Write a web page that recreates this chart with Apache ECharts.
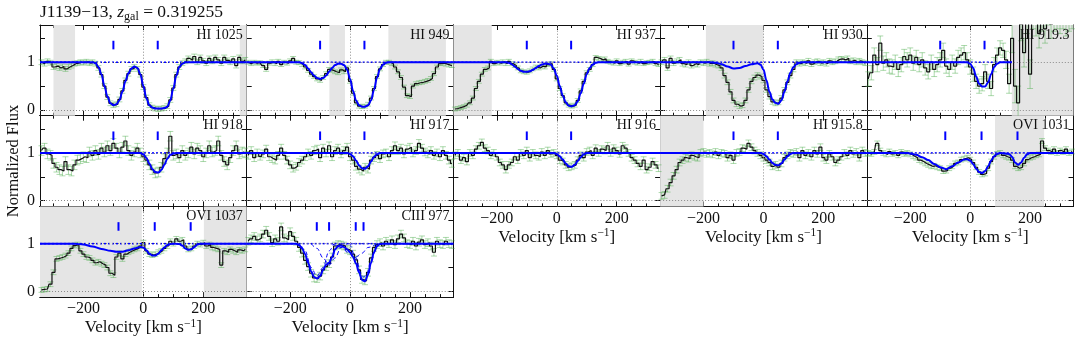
<!DOCTYPE html>
<html lang="en">
<head>
<meta charset="UTF-8">
<title>J1139-13 velocity stack</title>
<style>
  html, body { margin: 0; padding: 0; background: #fff; }
  #chart { width: 1080px; height: 343px; }
</style>
<script src="https://cdn.jsdelivr.net/npm/echarts@6/dist/echarts.min.js"></script>
</head>
<body>
<div id="chart"></div>
<script>
// velocity bins (km/s), shared by every transition
const vel = [-340, -330, -320, -310, -300, -290, -280, -270, -260, -250,
  -240, -230, -220, -210, -200, -190, -180, -170, -160, -150,
  -140, -130, -120, -110, -100, -90, -80, -70, -60, -50,
  -40, -30, -20, -10, 0, 10, 20, 30, 40, 50,
  60, 70, 80, 90, 100, 110, 120, 130, 140, 150,
  160, 170, 180, 190, 200, 210, 220, 230, 240, 250,
  260, 270, 280, 290, 300, 310, 320, 330, 340];

// normalized flux
const fHI1025 = [1.0, 0.97, 1.02, 0.99, 0.9, 0.92, 0.88, 0.91, 0.86, 0.9,
  0.93, 0.97, 0.98, 1.0, 0.99, 1.01, 0.98, 1.0, 0.97, 0.88,
  0.74, 0.5, 0.27, 0.14, 0.1, 0.12, 0.22, 0.4, 0.62, 0.76,
  0.86, 0.9, 0.86, 0.74, 0.48, 0.26, 0.1, 0.05, 0.03, 0.02,
  0.03, 0.04, 0.08, 0.21, 0.46, 0.74, 0.9, 0.98, 1.02, 1.08,
  1.04, 1.12, 1.0, 1.1, 1.03, 0.98, 1.08, 1.02, 1.1, 1.05,
  0.98, 1.1, 1.04, 1.0, 1.07, 0.93, 1.1, 1.02, 1.05];
const fHI949 = [1.0, 0.97, 1.0, 0.98, 0.99, 0.93, 0.85, 0.98, 1.01, 0.97,
  1.02, 0.95, 1.0, 0.98, 1.03, 1.08, 1.0, 0.99, 0.95, 0.9,
  0.83, 0.75, 0.7, 0.65, 0.62, 0.68, 0.76, 0.85, 0.83, 0.8,
  0.78, 0.84, 0.8, 0.88, 0.6, 0.35, 0.15, 0.08, 0.07, 0.08,
  0.12, 0.25, 0.45, 0.7, 0.86, 0.95, 1.0, 1.0, 0.97, 0.9,
  0.8, 0.68, 0.48, 0.3, 0.28, 0.5, 0.55, 0.57, 0.58, 0.6,
  0.62, 0.66, 0.76, 0.9, 0.97, 0.98, 0.96, 0.94, 0.93];
const fHI937 = [0.02, 0.03, 0.05, 0.07, 0.1, 0.15, 0.25, 0.45, 0.6, 0.75,
  0.85, 0.88, 1.02, 0.97, 1.0, 0.98, 1.01, 0.97, 1.02, 0.97,
  0.93, 0.88, 0.82, 0.8, 0.79, 0.82, 0.86, 0.9, 0.88, 0.92,
  0.9, 0.95, 0.97, 0.85, 0.65, 0.45, 0.3, 0.15, 0.1, 0.08,
  0.1, 0.2, 0.4, 0.6, 0.78, 0.85, 0.95, 1.1, 1.08, 1.05,
  1.07, 1.02, 1.0, 0.98, 1.03, 0.97, 1.0, 1.02, 0.96, 1.03,
  1.0, 0.98, 1.02, 0.97, 0.99, 1.0, 1.02, 0.97, 0.95];
const fHI930 = [1.0, 1.05, 0.88, 1.08, 0.98, 1.02, 1.05, 0.97, 0.95, 1.0,
  0.93, 0.97, 0.95, 1.0, 0.98, 1.01, 0.97, 0.98, 0.95, 0.93,
  0.88, 0.72, 0.58, 0.38, 0.2, 0.12, 0.08, 0.1, 0.2, 0.42,
  0.6, 0.68, 0.73, 0.7, 0.62, 0.42, 0.28, 0.17, 0.14, 0.16,
  0.25, 0.42, 0.58, 0.72, 0.85, 1.0, 0.97, 1.0, 0.98, 1.03,
  0.96, 1.0, 1.02, 0.98, 1.0, 0.97, 1.03, 1.0, 1.02, 1.06,
  1.07, 1.05, 1.08, 1.02, 1.04, 1.0, 1.03, 1.0, 0.98];
const fHI919 = [0.65, 0.78, 1.15, 0.95, 1.4, 0.98, 1.05, 0.92, 0.9, 1.0,
  0.85, 0.95, 1.12, 1.05, 1.15, 0.98, 1.1, 0.95, 1.05, 0.88,
  0.8, 1.0, 0.85, 0.95, 1.05, 1.25, 0.92, 0.85, 1.0, 0.92,
  1.1, 1.15, 1.2, 1.05, 0.9, 0.75, 0.6, 0.5, 0.55, 0.8,
  0.6, 0.45, 0.95, 1.15, 1.3, 1.25, 1.05, 0.55, 1.5, 0.5,
  0.15, 1.8, 1.2, 1.9, 0.75, 2.0, 1.85, 1.6, 1.95, 1.7,
  2.1, 1.8, 1.95, 2.0, 1.9, 2.0, 1.85, 1.95, 2.0];
const fHI918 = [1.05, 1.1, 0.98, 0.95, 0.78, 0.7, 0.65, 0.62, 0.82, 0.65,
  0.62, 0.75, 0.85, 0.88, 0.92, 0.9, 1.02, 0.95, 1.05, 0.97,
  1.1, 1.02, 1.15, 1.05, 1.2, 1.1, 1.0, 1.12, 1.25, 1.05,
  0.95, 1.02, 1.1, 1.0, 0.92, 0.85, 0.75, 0.65, 0.58, 0.6,
  0.7, 0.88, 1.0, 1.35, 0.95, 0.98, 0.9, 1.05, 0.95, 1.0,
  1.12, 0.98, 1.1, 1.05, 0.92, 1.0, 1.15, 1.02, 1.05, 1.25,
  0.95, 0.82, 0.75, 0.9, 1.05, 1.15, 0.98, 1.02, 1.0];
const fHI917 = [0.95, 1.05, 0.9, 1.0, 0.93, 0.98, 1.08, 0.92, 0.88, 0.85,
  0.95, 1.1, 0.95, 0.85, 0.75, 0.68, 0.72, 0.8, 0.85, 0.92,
  1.0, 0.95, 1.05, 1.08, 0.9, 1.1, 1.0, 1.15, 0.92, 1.05,
  1.1, 0.98, 1.05, 1.12, 0.92, 0.85, 0.72, 0.66, 0.62, 0.7,
  0.66, 0.85, 0.9, 0.95, 0.88, 0.98, 1.0, 0.92, 1.05, 1.15,
  1.05, 1.1, 0.98, 1.08, 1.12, 1.0, 1.05, 1.2, 1.1, 1.02,
  0.98, 1.05, 0.95, 1.0, 0.92, 1.05, 0.95, 0.85, 0.78];
const fHI916 = [0.95, 1.0, 0.85, 0.9, 0.82, 1.0, 0.95, 1.08, 1.15, 1.22,
  1.1, 1.05, 0.95, 1.0, 0.92, 0.8, 0.75, 0.65, 0.75, 0.8,
  0.92, 0.85, 1.0, 0.95, 1.05, 0.9, 1.0, 0.95, 0.92, 1.02,
  0.95, 1.05, 0.98, 1.0, 0.95, 0.85, 0.82, 0.75, 0.7, 0.72,
  0.75, 0.85, 0.95, 0.9, 1.02, 1.05, 0.95, 1.1, 1.0, 1.08,
  1.05, 1.15, 1.0, 1.1, 1.05, 0.98, 1.15, 1.1, 1.0, 0.9,
  0.85, 0.78, 0.72, 0.85, 0.65, 0.7, 0.82, 0.75, 0.68];
const fHI9158 = [0.1, 0.12, 0.25, 0.38, 0.52, 0.65, 0.8, 0.85, 0.9, 0.88,
  0.95, 0.92, 0.9, 1.0, 1.02, 0.98, 1.0, 0.97, 1.02, 0.95,
  1.0, 0.98, 0.9, 0.95, 0.85, 1.0, 1.02, 1.1, 1.08, 1.2,
  1.12, 1.05, 1.0, 0.95, 0.9, 0.85, 0.8, 0.72, 0.75, 0.7,
  0.78, 0.9, 0.95, 1.0, 0.98, 1.02, 0.9, 1.05, 0.95, 1.0,
  0.92, 1.05, 0.98, 1.12, 0.9, 0.85, 0.98, 0.92, 0.8, 0.85,
  0.92, 1.0, 0.95, 1.05, 0.98, 1.02, 0.9, 1.05, 1.0];
const fOVI1031 = [1.0, 0.98, 1.02, 1.2, 1.05, 1.0, 0.97, 1.03, 0.98, 1.0,
  0.95, 1.02, 0.98, 1.0, 0.97, 0.93, 0.9, 0.85, 0.82, 0.78,
  0.75, 0.72, 0.73, 0.7, 0.68, 0.62, 0.63, 0.68, 0.72, 0.78,
  0.8, 0.86, 0.88, 0.9, 0.86, 0.8, 0.7, 0.6, 0.55, 0.57,
  0.68, 0.82, 0.92, 0.98, 1.0, 0.95, 0.92, 0.9, 0.85, 0.72,
  0.68, 0.7, 0.78, 0.86, 0.9, 0.92, 0.95, 0.97, 1.25, 1.1,
  1.05, 1.02, 1.08, 1.0, 1.05, 1.02, 1.08, 1.0, 1.03];
const fOVI1037 = [0.03, 0.04, 0.05, 0.15, 0.4, 0.68, 0.7, 0.72, 0.75, 0.8,
  0.9, 0.96, 0.98, 0.85, 0.78, 0.72, 0.7, 0.65, 0.6, 0.62,
  0.58, 0.55, 0.5, 0.38, 0.34, 0.72, 0.8, 0.68, 0.78, 0.82,
  0.85, 0.88, 0.9, 0.95, 1.02, 0.85, 0.78, 0.76, 0.78, 0.82,
  0.85, 0.9, 0.95, 1.05, 1.0, 1.1, 1.05, 1.08, 0.95, 0.88,
  0.9, 0.95, 1.0, 0.98, 1.02, 0.95, 0.98, 0.92, 0.9, 0.88,
  0.55, 0.85, 0.82, 0.88, 0.85, 0.82, 0.87, 0.85, 0.88];
const fCIII977 = [1.05, 1.1, 1.15, 1.08, 1.12, 1.2, 1.28, 1.15, 1.02, 1.1,
  1.05, 1.35, 1.12, 1.08, 1.25, 1.15, 1.05, 0.92, 0.8, 0.65,
  0.52, 0.38, 0.28, 0.27, 0.32, 0.45, 0.52, 0.58, 0.72, 0.95,
  0.98, 0.97, 0.95, 0.88, 0.85, 0.78, 0.66, 0.45, 0.25, 0.22,
  0.4, 0.7, 0.92, 0.98, 1.02, 0.95, 1.05, 1.0, 1.08, 0.98,
  1.1, 1.2, 1.12, 1.0, 0.98, 1.05, 0.95, 1.03, 1.08, 0.98,
  1.02, 0.95, 0.82, 1.05, 1.0, 0.98, 1.05, 1.0, 0.98];

// typical 1-sigma error per transition (HI 919 gets noisier redward)
const eHI919 = [0.15, 0.15, 0.15, 0.15, 0.15, 0.15, 0.15, 0.15, 0.15, 0.15,
  0.15, 0.15, 0.15, 0.15, 0.15, 0.15, 0.15, 0.15, 0.15, 0.15,
  0.15, 0.15, 0.15, 0.15, 0.15, 0.15, 0.15, 0.15, 0.15, 0.15,
  0.15, 0.15, 0.15, 0.15, 0.15, 0.15, 0.15, 0.15, 0.15, 0.15,
  0.15, 0.15, 0.15, 0.15, 0.15, 0.15, 0.18, 0.2, 0.3, 0.35,
  0.35, 0.35, 0.3, 0.3, 0.3, 0.3, 0.3, 0.3, 0.3, 0.3,
  0.3, 0.3, 0.3, 0.3, 0.3, 0.3, 0.3, 0.3, 0.3];
const errs = [0.05, 0.04, 0.04, 0.05, eHI919, 0.1, 0.08, 0.07, 0.07, 0.05, 0.05, 0.08];

// Voigt model fits [velocity, flux]
const mHI1025 = [[-345, 1], [-170, 1], [-160, 0.98], [-150, 0.9], [-140, 0.75], [-130, 0.5], [-120, 0.28], [-110, 0.14], [-100, 0.1], [-90, 0.12], [-80, 0.2], [-70, 0.38], [-60, 0.6], [-50, 0.77], [-40, 0.87], [-30, 0.91], [-20, 0.88], [-10, 0.75], [0, 0.5], [10, 0.25], [20, 0.1], [30, 0.05], [40, 0.03], [50, 0.03], [60, 0.03], [70, 0.04], [80, 0.07], [90, 0.2], [100, 0.45], [110, 0.72], [120, 0.9], [130, 0.97], [140, 1], [345, 1]];
const mHI949 = [[-345, 1], [-170, 1], [-160, 0.98], [-150, 0.94], [-140, 0.87], [-130, 0.79], [-120, 0.72], [-110, 0.67], [-100, 0.65], [-90, 0.67], [-80, 0.72], [-70, 0.8], [-60, 0.88], [-50, 0.94], [-40, 0.97], [-30, 0.97], [-20, 0.94], [-10, 0.85], [0, 0.65], [10, 0.4], [20, 0.2], [30, 0.1], [40, 0.07], [50, 0.07], [60, 0.1], [70, 0.2], [80, 0.42], [90, 0.68], [100, 0.86], [110, 0.95], [120, 0.99], [130, 1], [345, 1]];
const mHI937 = [[-345, 1], [-170, 1], [-160, 0.99], [-150, 0.96], [-140, 0.91], [-130, 0.86], [-120, 0.82], [-110, 0.8], [-100, 0.8], [-90, 0.81], [-80, 0.84], [-70, 0.88], [-60, 0.92], [-50, 0.95], [-40, 0.97], [-30, 0.97], [-20, 0.95], [-10, 0.87], [0, 0.72], [10, 0.5], [20, 0.3], [30, 0.16], [40, 0.09], [50, 0.08], [60, 0.1], [70, 0.18], [80, 0.35], [90, 0.55], [100, 0.75], [110, 0.88], [120, 0.95], [130, 0.99], [140, 1], [345, 1]];
const mHI930 = [[-345, 1], [-180, 1], [-160, 0.99], [-140, 0.96], [-120, 0.91], [-100, 0.87], [-80, 0.88], [-60, 0.92], [-40, 0.96], [-20, 0.98], [-10, 0.95], [0, 0.85], [10, 0.62], [20, 0.38], [30, 0.22], [40, 0.15], [50, 0.13], [60, 0.2], [70, 0.38], [80, 0.6], [90, 0.78], [100, 0.9], [110, 0.96], [120, 0.99], [130, 1], [345, 1]];
const mHI919 = [[-345, 1], [-10, 1], [0, 0.97], [10, 0.88], [20, 0.7], [30, 0.55], [40, 0.49], [50, 0.49], [60, 0.58], [70, 0.75], [80, 0.9], [90, 0.97], [100, 1], [139, 1]];
const mHI918 = [[-345, 1], [-10, 1], [0, 0.97], [10, 0.9], [20, 0.78], [30, 0.66], [40, 0.6], [50, 0.59], [60, 0.64], [70, 0.75], [80, 0.88], [90, 0.96], [100, 0.99], [110, 1], [345, 1]];
const mHI917 = [[-345, 1], [-10, 1], [0, 0.98], [10, 0.93], [20, 0.84], [30, 0.74], [40, 0.68], [50, 0.67], [60, 0.72], [70, 0.82], [80, 0.92], [90, 0.97], [100, 1], [345, 1]];
const mHI916 = [[-345, 1], [-10, 1], [0, 0.98], [10, 0.93], [20, 0.86], [30, 0.78], [40, 0.72], [50, 0.71], [60, 0.75], [70, 0.83], [80, 0.91], [90, 0.97], [100, 1], [345, 1]];
const mHI9158 = [[-345, 1], [-10, 1], [0, 0.98], [10, 0.93], [20, 0.86], [30, 0.79], [40, 0.75], [50, 0.74], [60, 0.78], [70, 0.86], [80, 0.93], [90, 0.98], [100, 1], [345, 1]];
const mOVI1031 = [[-345, 1], [-210, 1], [-200, 0.99], [-180, 0.96], [-160, 0.91], [-140, 0.85], [-120, 0.77], [-100, 0.7], [-80, 0.66], [-60, 0.72], [-40, 0.8], [-20, 0.86], [-10, 0.87], [0, 0.84], [10, 0.77], [20, 0.67], [30, 0.6], [40, 0.58], [50, 0.62], [60, 0.72], [70, 0.84], [80, 0.93], [90, 0.98], [100, 1.0], [130, 0.98], [140, 0.92], [150, 0.8], [160, 0.75], [170, 0.8], [180, 0.9], [190, 0.97], [200, 1], [345, 1]];
const mOVI1037 = [[-345, 1], [-230, 1], [-200, 0.98], [-170, 0.94], [-140, 0.89], [-110, 0.85], [-90, 0.83], [-70, 0.83], [-50, 0.86], [-30, 0.9], [-10, 0.93], [0, 0.92], [10, 0.86], [20, 0.79], [30, 0.75], [40, 0.75], [50, 0.79], [60, 0.86], [70, 0.92], [80, 0.97], [90, 0.99], [100, 1.0], [120, 0.99], [130, 0.96], [140, 0.9], [150, 0.87], [160, 0.88], [170, 0.93], [180, 0.98], [190, 1], [345, 1]];
const mCIII977 = [[-345, 1], [-180, 1], [-170, 0.97], [-160, 0.9], [-150, 0.78], [-140, 0.6], [-130, 0.42], [-120, 0.3], [-110, 0.27], [-100, 0.32], [-90, 0.45], [-80, 0.56], [-70, 0.6], [-60, 0.72], [-50, 0.88], [-40, 0.95], [-30, 0.96], [-20, 0.93], [-10, 0.88], [0, 0.82], [10, 0.72], [20, 0.58], [30, 0.4], [40, 0.24], [50, 0.21], [60, 0.35], [70, 0.6], [80, 0.82], [90, 0.95], [100, 0.99], [110, 1], [345, 1]];
// individual CIII components (dashed)
const cCIII_a = [[-345, 1], [-170, 1], [-150, 0.85], [-130, 0.5], [-111, 0.32], [-90, 0.5], [-70, 0.85], [-50, 1], [345, 1]];
const cCIII_b = [[-130, 1], [-110, 0.9], [-90, 0.7], [-70, 0.55], [-50, 0.7], [-30, 0.92], [-10, 1]];
const cCIII_c = [[-60, 1], [-30, 0.92], [0, 0.78], [19, 0.72], [40, 0.8], [60, 0.92], [90, 1]];
const cCIII_d = [[0, 1], [20, 0.7], [35, 0.4], [45, 0.3], [55, 0.35], [70, 0.65], [90, 0.95], [100, 1]];

// component centroids (km/s)
const compHI = [-100, 48];
const compOVI = [-83, 38, 158];
const compCIII = [-111, -70, 19, 45];

// masked (blended) velocity ranges
const shadeHI1025 = [[-300, -228], [322, 345]];
const shadeHI949 = [[-69, -17], [128, 320]];
const shadeHI937 = [[-345, -217]];
const shadeHI930 = [[-192, 0]];
const shadeHI919 = [[139, 345]];
const shadeHI9158 = [[-345, -200]];
const shadeOVI1031 = [[83, 247]];
const shadeOVI1037 = [[-345, -5], [202, 345]];

const labels = ['HI 1025', 'HI 949', 'HI 937', 'HI 930', 'HI 919.3', 'HI 918', 'HI 917', 'HI 916', 'HI 915.8', 'OVI 1031', 'OVI 1037', 'CIII 977'];
const fluxes = [fHI1025, fHI949, fHI937, fHI930, fHI919, fHI918, fHI917, fHI916, fHI9158, fOVI1031, fOVI1037, fCIII977];
const models = [mHI1025, mHI949, mHI937, mHI930, mHI919, mHI918, mHI917, mHI916, mHI9158, mOVI1031, mOVI1037, mCIII977];
const comps = [compHI, compHI, compHI, compHI, compHI, compHI, compHI, compHI, compHI, compOVI, compOVI, compCIII];
const shades = [shadeHI1025, shadeHI949, shadeHI937, shadeHI930, shadeHI919, [], [], [], shadeHI9158, shadeOVI1031, shadeOVI1037, []];
const dashed = { 11: [cCIII_a, cCIII_b, cCIII_c, cCIII_d] };

const xMajor = [-200, 0, 200];
const xMinor = [-300, -250, -150, -100, -50, 50, 100, 150, 250, 300];
const yTicks = [0, 0.5, 1, 1.5];

const FONT = "'Liberation Serif', 'DejaVu Serif', serif";
const INK = '#111';
const BLUE = '#0000ff';
const nCol = 5, gx = 40, gy = 25, gw = 206.7, gh = 90.7;
const xMin = -345, xMax = 345, yMin = -0.12, yMax = 1.78;

const fmt = v => (v < 0 ? '\u2212' + Math.abs(v) : String(v));

const chart = echarts.init(document.getElementById('chart'));
const grids = [], xAxes = [], yAxes = [], series = [], graphics = [];

function xAxis(i, pos, ticks, len, withLabels) {
  return {
    type: 'value', gridIndex: i, position: pos, min: xMin, max: xMax,
    splitLine: { show: false },
    axisLine: { show: true, onZero: false, lineStyle: { color: INK, width: 1 } },
    axisTick: { show: true, inside: true, length: len, customValues: ticks, lineStyle: { color: INK, width: 1 } },
    axisLabel: withLabels
      ? { show: true, customValues: xMajor, formatter: fmt, margin: 4, fontFamily: FONT, fontSize: 16, color: INK }
      : { show: false },
    name: withLabels ? '{a|Velocity [km s}{s|\u22121}{a|]}' : '',
    nameLocation: 'middle', nameGap: 19,
    nameTextStyle: {
      rich: {
        a: { fontFamily: FONT, fontSize: 17, color: INK, lineHeight: 20 },
        s: { fontFamily: FONT, fontSize: 11.5, color: INK, verticalAlign: 'top', lineHeight: 12 }
      }
    }
  };
}
function yAxis(i, pos, withLabels) {
  return {
    type: 'value', gridIndex: i, position: pos, min: yMin, max: yMax,
    splitLine: { show: false },
    axisLine: { show: true, onZero: false, lineStyle: { color: INK, width: 1 } },
    axisTick: { show: true, inside: true, length: 5, customValues: yTicks, lineStyle: { color: INK, width: 1 } },
    axisLabel: withLabels
      ? { show: true, customValues: [0, 1], margin: 5, fontFamily: FONT, fontSize: 16, color: INK }
      : { show: false }
  };
}

function errRender(params, api) {
  const v = api.value(0), lo = api.value(1), hi = api.value(2);
  const cs = params.coordSys;
  const clampY = y => Math.max(cs.y, Math.min(cs.y + cs.height, y));
  const p1 = api.coord([v, lo]), p2 = api.coord([v, hi]);
  const x = p1[0], y1 = clampY(p1[1]), y2 = clampY(p2[1]);
  const st = { stroke: 'rgba(70,170,70,0.45)', lineWidth: 1 };
  const kids = [{ type: 'line', shape: { x1: x, y1: y1, x2: x, y2: y2 }, style: st }];
  if (p1[1] <= cs.y + cs.height) kids.push({ type: 'line', shape: { x1: x - 3, y1: y1, x2: x + 3, y2: y1 }, style: st });
  if (p2[1] >= cs.y) kids.push({ type: 'line', shape: { x1: x - 3, y1: y2, x2: x + 3, y2: y2 }, style: st });
  return { type: 'group', children: kids };
}
function tickRender(params, api) {
  const v = api.value(0);
  const a = api.coord([v, 1.27]), b = api.coord([v, 1.45]);
  return { type: 'line', shape: { x1: a[0], y1: a[1], x2: b[0], y2: b[1] }, style: { stroke: BLUE, lineWidth: 2 } };
}

labels.forEach((lab, i) => {
  const c = i % nCol, r = Math.floor(i / nCol);
  const left = gx + c * gw, top = gy + r * gh;
  grids.push({ left: left, top: top, width: gw, height: gh });
  const bottomRow = i >= 7;
  const xi = xAxes.length, yi = yAxes.length;
  xAxes.push(xAxis(i, 'bottom', xMajor, 5, bottomRow));
  xAxes.push(xAxis(i, 'bottom', xMinor, 3, false));
  xAxes.push(xAxis(i, 'top', xMajor, 5, false));
  xAxes.push(xAxis(i, 'top', xMinor, 3, false));
  yAxes.push(yAxis(i, 'left', c === 0));
  yAxes.push(yAxis(i, 'right', false));

  const flux = fluxes[i], model = models[i];
  const err = errs[i];

  // shaded regions + dotted reference lines
  series.push({
    type: 'line', xAxisIndex: xi, yAxisIndex: yi, data: [], z: 1, silent: true,
    markArea: {
      silent: true, itemStyle: { color: '#e5e5e5' },
      data: shades[i].map(s => [{ xAxis: s[0] }, { xAxis: s[1] }])
    },
    markLine: {
      silent: true, symbol: 'none', label: { show: false },
      lineStyle: { color: '#8a8a8a', type: [1, 2], width: 1 },
      data: [{ yAxis: 0 }, { yAxis: 1 }, { xAxis: 0 }]
    }
  });
  // error bars
  series.push({
    type: 'custom', xAxisIndex: xi, yAxisIndex: yi, z: 2, silent: true,
    renderItem: errRender,
    data: vel.map((v, k) => {
      const e = Array.isArray(err) ? err[k] : err;
      return [v, flux[k] - e, flux[k] + e];
    })
  });
  // binned spectrum
  series.push({
    type: 'line', xAxisIndex: xi, yAxisIndex: yi, z: 3, step: 'middle', silent: true,
    showSymbol: false, symbol: 'none', clip: true,
    lineStyle: { color: INK, width: 1.2 },
    data: vel.map((v, k) => [v, flux[k]])
  });
  // continuum
  series.push({
    type: 'line', xAxisIndex: xi, yAxisIndex: yi, z: 4, silent: true, showSymbol: false, symbol: 'none',
    lineStyle: { color: BLUE, width: 1.5, type: [2, 2] },
    data: [[model[0][0], 1], [model[model.length - 1][0], 1]]
  });
  (dashed[i] || []).forEach(d => series.push({
    type: 'line', xAxisIndex: xi, yAxisIndex: yi, z: 4, silent: true, showSymbol: false, symbol: 'none',
    smooth: 0.35, smoothMonotone: 'x',
    lineStyle: { color: BLUE, width: 1, type: [4, 3] }, data: d
  }));
  // model fit
  series.push({
    type: 'line', xAxisIndex: xi, yAxisIndex: yi, z: 5, silent: true, showSymbol: false, symbol: 'none',
    smooth: 0.35, smoothMonotone: 'x', clip: true,
    lineStyle: { color: BLUE, width: 2 }, data: model
  });
  // component markers
  series.push({
    type: 'custom', xAxisIndex: xi, yAxisIndex: yi, z: 6, silent: true,
    renderItem: tickRender, data: comps[i].map(v => [v])
  });

  graphics.push({
    type: 'text', x: left + gw - 4, y: top + 3, z: 10, silent: true,
    style: { text: lab, font: '14px ' + FONT, fill: INK, textAlign: 'right', textVerticalAlign: 'top' }
  });
});

graphics.push({
  type: 'text', x: 40, y: 2, silent: true,
  style: {
    text: '{a|J1139\u221213, }{i|z}{s|gal}{a| = 0.319255}',
    textVerticalAlign: 'top',
    rich: {
      a: { fontFamily: FONT, fontSize: 17.5, fill: INK, lineHeight: 21, verticalAlign: 'middle' },
      i: { fontFamily: FONT, fontSize: 17.5, fontStyle: 'italic', fill: INK, lineHeight: 21, verticalAlign: 'middle' },
      s: { fontFamily: FONT, fontSize: 12, fill: INK, lineHeight: 21, verticalAlign: 'bottom' }
    }
  }
});
graphics.push({
  type: 'text', x: 14, y: 161, rotation: Math.PI / 2, silent: true,
  style: { text: 'Normalized Flux', font: '16.5px ' + FONT, fill: INK, textAlign: 'center', textVerticalAlign: 'middle' }
});

chart.setOption({
  animation: false,
  backgroundColor: '#fff',
  grid: grids,
  xAxis: xAxes,
  yAxis: yAxes,
  series: series,
  graphic: graphics
});
</script>
</body>
</html>
